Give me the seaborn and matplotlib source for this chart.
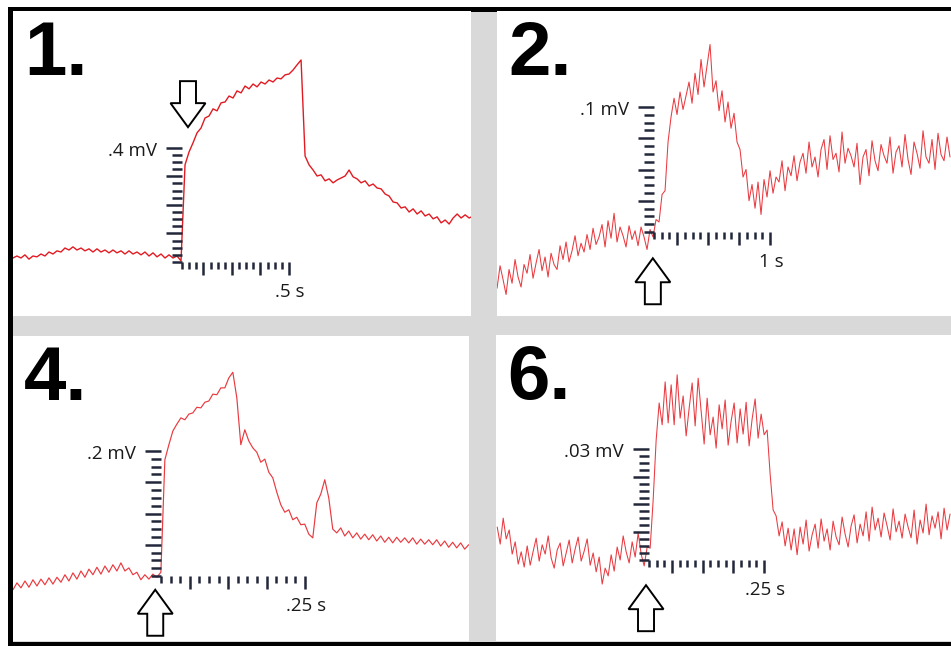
import numpy as np
import matplotlib
matplotlib.use("Agg")
import matplotlib.pyplot as plt
from matplotlib.patches import Rectangle, Polygon
from matplotlib.markers import TICKLEFT, TICKDOWN
import seaborn as sns

#
# Recorded traces, microvolts relative to the pre-stimulus baseline.
# Each trace is sampled uniformly: first sample time (s) and sample step (s).
#
trace1_uv = [14, 21, 14, 25, 10, 21, 18, 28, 21, 35,
             28, 39, 35, 49, 42, 53, 42, 49, 39, 46,
             35, 46, 35, 42, 32, 42, 32, 39, 28, 39,
             28, 35, 25, 35, 21, 32, 18, 28, 14, 25,
             14, 21, 4, 340, 385, 417, 452, 469, 504, 511,
             536, 529, 557, 560, 581, 574, 599, 592, 616, 606,
             623, 613, 630, 623, 637, 630, 644, 641, 655, 658,
             672, 690, 707, 371, 340, 322, 301, 305, 284, 291,
             277, 287, 294, 301, 322, 298, 291, 277, 284, 266,
             273, 259, 256, 238, 231, 210, 207, 189, 193, 175,
             186, 168, 179, 161, 168, 151, 158, 137, 147, 133,
             154, 168, 154, 165, 154, 161]
trace1_t0, trace1_dt = -0.79, 0.0187

trace2_uv = [-45, -27, -38, -50, -30, -41, -22, -36, -44, -26,
             -33, -18, -37, -25, -14, -31, -20, -36, -17, -26,
             -30, -11, -22, -8, -24, -15, -3, -19, -9, -16,
             -2, -14, 3, -10, -4, 6, -12, 9, -5, 15,
             -8, 4, -3, -12, 5, -6, 1, -11, 4, -4,
             -14, 2, -4, 10, 8, 30, 33, 72, 92, 107,
             94, 112, 98, 109, 120, 103, 127, 110, 138, 116,
             133, 150, 112, 121, 97, 113, 88, 104, 83, 95,
             72, 66, 44, 50, 25, 38, 19, 40, 14, 42,
             28, 49, 31, 44, 40, 57, 33, 52, 45, 61,
             41, 56, 63, 47, 72, 52, 60, 44, 66, 74,
             50, 77, 58, 63, 48, 80, 55, 67, 61, 52,
             71, 38, 60, 66, 45, 73, 57, 49, 70, 61,
             55, 76, 47, 64, 69, 52, 78, 58, 46, 72,
             63, 51, 81, 60, 55, 74, 50, 79, 62, 57,
             76, 60]
trace2_t0, trace2_dt = -1.353, 0.02586

trace4_uv = [-22, -11, -19, -8, -18, -6, -16, -5, -14, -3,
             -13, -2, -10, 2, -8, 5, -5, 8, -2, 11,
             2, 14, 3, 16, 6, 18, 8, 21, 8, 13,
             2, 6, -6, 2, -5, 3, -2, 6, 186, 210,
             232, 243, 253, 250, 259, 261, 270, 269, 278, 280,
             291, 290, 301, 301, 317, 326, 285, 210, 234, 216,
             205, 198, 182, 187, 166, 157, 134, 114, 102, 106,
             90, 94, 82, 83, 67, 61, 117, 131, 154, 125,
             75, 69, 77, 64, 72, 61, 69, 59, 67, 58,
             66, 56, 64, 54, 62, 53, 62, 54, 61, 53,
             61, 51, 59, 51, 58, 50, 58, 48, 56, 46,
             54, 45, 53, 43, 50]
trace4_t0, trace4_dt = -0.257, 0.00694

trace6_uv = [8.9, 4.3, 11.3, 5.7, 8.1, 1.6, 4.9, -1.1, 2.2, -1.9,
             3.8, -1.4, 2.4, 5.9, -0.3, 4.1, 1.6, 6.5, 0.5, -2.2,
             2.7, 4.6, -1.6, 1.9, 5.4, -0.8, 3.0, 6.2, -0.3, 2.4,
             5.7, -1.4, 1.9, -3.2, 0.8, -6.5, -2.2, -4.3, 1.4, -3.0,
             3.5, 0.0, 6.5, 2.2, -0.8, 4.9, 0.8, 7.3, 1.6, -1.6,
             3.5, 3.2, 16.2, 32.4, 42.4, 36.5, 48.1, 37.0, 47.3, 36.5,
             50.0, 38.3, 44.3, 33.5, 41.0, 47.8, 36.2, 49.1, 40.2, 31.3,
             43.7, 33.8, 38.6, 30.2, 41.9, 35.4, 43.2, 31.0, 37.5, 42.4,
             31.6, 40.8, 34.0, 42.6, 30.8, 38.1, 43.5, 32.9, 39.4, 33.8,
             35.1, 23.2, 13.5, 11.9, 6.5, 10.3, 3.8, 8.6, 2.7, 8.4,
             1.4, 8.9, 4.3, 10.8, 2.4, 6.8, 9.7, 3.2, 11.1, 5.1,
             8.4, 2.7, 10.5, 6.2, 4.1, 11.6, 7.0, 3.5, 9.2, 12.2,
             4.6, 9.7, 6.5, 13.0, 5.1, 14.3, 8.1, 11.3, 6.2, 12.7,
             9.2, 5.4, 13.8, 7.6, 10.5, 5.9, 12.4, 8.9, 6.0, 13.5,
             4.3, 10.8, 7.3, 15.1, 6.8, 11.9, 8.6, 13.0, 5.7, 14.0,
             8.1, 12.4]
trace6_t0, trace6_dt = -0.330, 0.00652

#
# Layout of the composite, in pixels of the 951 x 646 output image
#
W, H = 951, 646
GREY = "#d9d9d9"
RED = "#e11b22"
LIGHT_RED = "#e93a40"
RULER = "#23273a"

panels = [
    dict(name="1.", uv=trace1_uv, t0=trace1_t0, dt=trace1_dt, lw=1.0, color=RED,
         box=(13, 11, 471, 316), origin=(182, 262), px_per_s=214, uv_per_px=3.5,
         bar_s=0.5, bar_uv=400, v_label=".4 mV", t_label=".5 s",
         arrow_tip=(0.028, 472), arrow_up=False),
    dict(name="2.", uv=trace2_uv, t0=trace2_t0, dt=trace2_dt, lw=0.75, color=LIGHT_RED,
         box=(497, 11, 951, 316), origin=(654, 232), px_per_s=116, uv_per_px=0.8,
         bar_s=1.0, bar_uv=100, v_label=".1 mV", t_label="1 s",
         arrow_tip=(-0.01, -21), arrow_up=True),
    dict(name="4.", uv=trace4_uv, t0=trace4_t0, dt=trace4_dt, lw=0.85, color=LIGHT_RED,
         box=(13, 336, 469, 641), origin=(161, 576), px_per_s=576, uv_per_px=1.6,
         bar_s=0.25, bar_uv=200, v_label=".2 mV", t_label=".25 s",
         arrow_tip=(-0.010, -22), arrow_up=True),
    dict(name="6.", uv=trace6_uv, t0=trace6_t0, dt=trace6_dt, lw=0.75, color=LIGHT_RED,
         box=(496, 335, 951, 641), origin=(649, 560), px_per_s=460, uv_per_px=0.27,
         bar_s=0.25, bar_uv=30, v_label=".03 mV", t_label=".25 s",
         arrow_tip=(-0.0065, -6.8), arrow_up=True),
]

PT = 0.72  # points per pixel at 100 dpi

sns.set_style("white")
plt.rcParams["font.family"] = ["Open Sans", "DejaVu Sans"]

fig = plt.figure(figsize=(W / 100, H / 100), dpi=100, facecolor="white")

# grey backing and black frame, drawn in image pixel coordinates
bg = fig.add_axes([0, 0, 1, 1])
bg.set_xlim(0, W)
bg.set_ylim(H, 0)
bg.set_axis_off()
bg.add_patch(Rectangle((9.5, 8.5), 960, 635, facecolor=GREY,
                       edgecolor="black", linewidth=5 * PT))


def draw_arrow(ax, p):
    # block arrow outline, sizes in pixels converted to data units
    tx, ty = p["arrow_tip"]
    sx, sy = 1.0 / p["px_per_s"], p["uv_per_px"]
    sign = 1 if p["arrow_up"] else -1
    length, head_len, head_w, shaft_w = 46, 24, 35, 16
    pts = [(0, 0), (head_w / 2, head_len), (shaft_w / 2, head_len),
           (shaft_w / 2, length), (-shaft_w / 2, length),
           (-shaft_w / 2, head_len), (-head_w / 2, head_len)]
    verts = [(tx + dx * sx, ty - sign * dy * sy) for dx, dy in pts]
    ax.add_patch(Polygon(verts, closed=True, facecolor="white",
                         edgecolor="black", linewidth=1.4, joinstyle="miter",
                         zorder=6))


for p in panels:
    x0, y0, x1, y1 = p["box"]
    ox, oy = p["origin"]
    ax = fig.add_axes([x0 / W, 1 - y1 / H, (x1 - x0) / W, (y1 - y0) / H])
    ax.set_facecolor("white")

    t = p["t0"] + p["dt"] * np.arange(len(p["uv"]))
    sns.lineplot(x=t, y=np.array(p["uv"]), ax=ax, color=p["color"],
                 linewidth=p["lw"], legend=False, zorder=3)

    ax.set_xlim((x0 - ox) / p["px_per_s"], (x1 - ox) / p["px_per_s"])
    ax.set_ylim((oy - y1) * p["uv_per_px"], (oy - y0) * p["uv_per_px"])
    ax.set_xticks([])
    ax.set_yticks([])
    ax.set_xlabel("")
    ax.set_ylabel("")
    sns.despine(ax=ax, left=True, bottom=True)

    # amplitude ruler: 16 divisions, long tick every 4
    vk = np.arange(17)
    vy = p["bar_uv"] * vk / 16
    vmajor = (vk % 4 == 0) & (vk > 0)
    ax.plot(np.zeros((~vmajor).sum()), vy[~vmajor], linestyle="none",
            marker=TICKLEFT, markersize=10.5 * PT, markeredgewidth=1.8,
            color=RULER, zorder=5)
    ax.plot(np.zeros(vmajor.sum()), vy[vmajor], linestyle="none",
            marker=TICKLEFT, markersize=16 * PT, markeredgewidth=1.8,
            color=RULER, zorder=5)

    # time ruler: 15 divisions, long ticks at 3, 7, 11, 15
    hk = np.arange(16)
    hx = p["bar_s"] * hk / 15
    hmajor = hk % 4 == 3
    ax.plot(hx[~hmajor], np.zeros((~hmajor).sum()), linestyle="none",
            marker=TICKDOWN, markersize=6.5 * PT, markeredgewidth=1.8,
            color=RULER, zorder=5)
    ax.plot(hx[hmajor], np.zeros(hmajor.sum()), linestyle="none",
            marker=TICKDOWN, markersize=12.5 * PT, markeredgewidth=1.8,
            color=RULER, zorder=5)

    ax.annotate(p["v_label"], xy=(0, p["bar_uv"]), xytext=(-25 * PT, -8 * PT),
                textcoords="offset points", ha="right", va="baseline",
                fontsize=13.5, color="#1a1a1a")
    ax.annotate(p["t_label"], xy=(p["bar_s"], 0), xytext=(1 * PT, -35 * PT),
                textcoords="offset points", ha="center", va="baseline",
                fontsize=13.5, color="#1a1a1a")
    ax.annotate(p["name"], xy=(0, 1), xycoords="axes fraction",
                xytext=(11 * PT, -64 * PT), textcoords="offset points",
                ha="left", va="baseline", fontsize=55, fontweight="bold",
                family=["Liberation Sans", "DejaVu Sans"], color="black")

    draw_arrow(ax, p)

fig.savefig("out.png", dpi=100)
